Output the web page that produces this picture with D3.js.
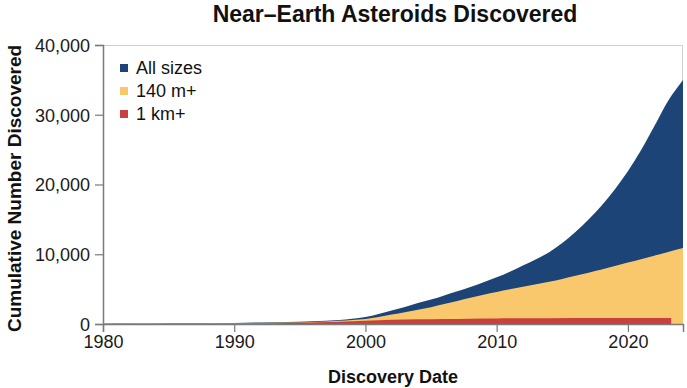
<!DOCTYPE html>
<html>
<head>
<meta charset="utf-8">
<script src="https://cdn.jsdelivr.net/npm/d3@7"></script>
<style>
  body { margin: 0; background: #fff; }
  svg { font-family: "Liberation Sans", Arial, sans-serif; }
  .tick text { font-size: 18px; fill: #1a1a1a; }
</style>
</head>
<body>
<svg id="chart" width="687" height="388"></svg>
<script>
/*
Data
*/
var allYears = [1980, 1982, 1984, 1986, 1988, 1990, 1992, 1994, 1996, 1998, 1999, 2000, 2001, 2002, 2003, 2004, 2005, 2006, 2007, 2008, 2009, 2010, 2011, 2012, 2013, 2014, 2015, 2016, 2017, 2018, 2019, 2020, 2021, 2022, 2023, 2024.2];
var allSizes = [50, 60, 75, 95, 120, 160, 220, 300, 400, 580, 750, 1000, 1450, 1950, 2450, 3000, 3500, 4100, 4700, 5300, 6000, 6700, 7500, 8400, 9300, 10300, 11600, 13200, 15000, 17000, 19300, 21900, 24900, 28300, 31800, 35000];

var medYears = [1980, 1985, 1990, 1994, 1996, 1998, 1999, 2000, 2001, 2002, 2003, 2004, 2005, 2006, 2007, 2008, 2009, 2010, 2011, 2012, 2013, 2014, 2015, 2016, 2017, 2018, 2019, 2020, 2021, 2022, 2023, 2024.2];
var med140 = [30, 60, 110, 200, 300, 460, 580, 720, 1000, 1350, 1700, 2050, 2400, 2850, 3300, 3750, 4200, 4600, 5000, 5350, 5700, 6050, 6450, 6900, 7350, 7800, 8300, 8800, 9300, 9800, 10300, 10900];

var kmYears = [1980, 1985, 1990, 1995, 1998, 2000, 2002, 2004, 2006, 2008, 2010, 2014, 2018, 2023.3];
var km1 = [20, 40, 70, 180, 330, 480, 600, 680, 730, 770, 800, 830, 850, 870];

var xTicks = [1980, 1990, 2000, 2010, 2020];
var yTicks = [0, 10000, 20000, 30000, 40000];
var seriesNames = ["All sizes", "140 m+", "1 km+"];
var seriesColors = ["#1d4477", "#fac86c", "#c9413f"];

/*
Chart
*/
var svg = d3.select("#chart");
var margin = {left: 103, right: 4, top: 45, bottom: 64};
var width = 687 - margin.left - margin.right;
var height = 388 - margin.top - margin.bottom;

var x = d3.scaleLinear().domain([1980, 2024.2]).range([0, width]);
var y = d3.scaleLinear().domain([0, 40000]).range([height, 0]);

var g = svg.append("g").attr("transform", "translate(" + margin.left + "," + margin.top + ")");

// frame top and right
g.append("path")
 .attr("d", "M0,0.5H" + (width - 0.5) + "V" + height)
 .attr("fill", "none")
 .attr("stroke", "#cfcfcf");

function toPoints(years, vals){
  return years.map(function(d, i){ return [d, vals[i]]; });
}
var area = d3.area()
  .curve(d3.curveMonotoneX)
  .x(function(d){ return x(d[0]); })
  .y0(y(0))
  .y1(function(d){ return y(d[1]); });

var series = [toPoints(allYears, allSizes), toPoints(medYears, med140), toPoints(kmYears, km1)];
g.selectAll("path.area")
 .data(series)
 .enter()
 .append("path")
 .attr("class", "area")
 .attr("d", area)
 .attr("fill", function(d, i){ return seriesColors[i]; });

// axes
var xAxis = g.append("g")
  .attr("transform", "translate(0," + height + ")")
  .call(d3.axisBottom(x).tickValues(xTicks).tickFormat(d3.format("d")).tickSize(8).tickPadding(3));
var yAxis = g.append("g")
  .call(d3.axisLeft(y).tickValues(yTicks).tickFormat(d3.format(",")).tickSize(8).tickPadding(5));
[xAxis, yAxis].forEach(function(a){
  a.select(".domain").attr("stroke", "#7a7a7a").attr("stroke-width", 1.5);
  a.selectAll(".tick line").attr("stroke", "#7a7a7a").attr("stroke-width", 1.2);
});
yAxis.selectAll(".tick text").attr("dy", "0.35em");

// titles
svg.append("text")
   .attr("x", 395)
   .attr("y", 22)
   .attr("text-anchor", "middle")
   .style("font-size", "23px")
   .style("font-weight", "bold")
   .style("fill", "#111")
   .text("Near\u2013Earth Asteroids Discovered");

svg.append("text")
   .attr("x", margin.left + width / 2)
   .attr("y", 383)
   .attr("text-anchor", "middle")
   .style("font-size", "18px")
   .style("font-weight", "bold")
   .style("fill", "#111")
   .text("Discovery Date");

svg.append("text")
   .attr("transform", "translate(21," + (margin.top + height / 2 + 4) + ") rotate(-90)")
   .attr("text-anchor", "middle")
   .style("font-size", "19px")
   .style("font-weight", "bold")
   .style("fill", "#111")
   .text("Cumulative Number Discovered");

// legend
var legend = svg.append("g").attr("transform", "translate(120,64)");
var item = legend.selectAll("g")
  .data(seriesNames)
  .enter()
  .append("g")
  .attr("transform", function(d, i){ return "translate(0," + (i * 23) + ")"; });
item.append("rect")
    .attr("width", 8)
    .attr("height", 8)
    .attr("fill", function(d, i){ return seriesColors[i]; });
item.append("text")
    .attr("x", 16)
    .attr("y", 4)
    .attr("dy", "0.35em")
    .style("font-size", "18px")
    .style("fill", "#111")
    .text(function(d){ return d; });
</script>
</body>
</html>
